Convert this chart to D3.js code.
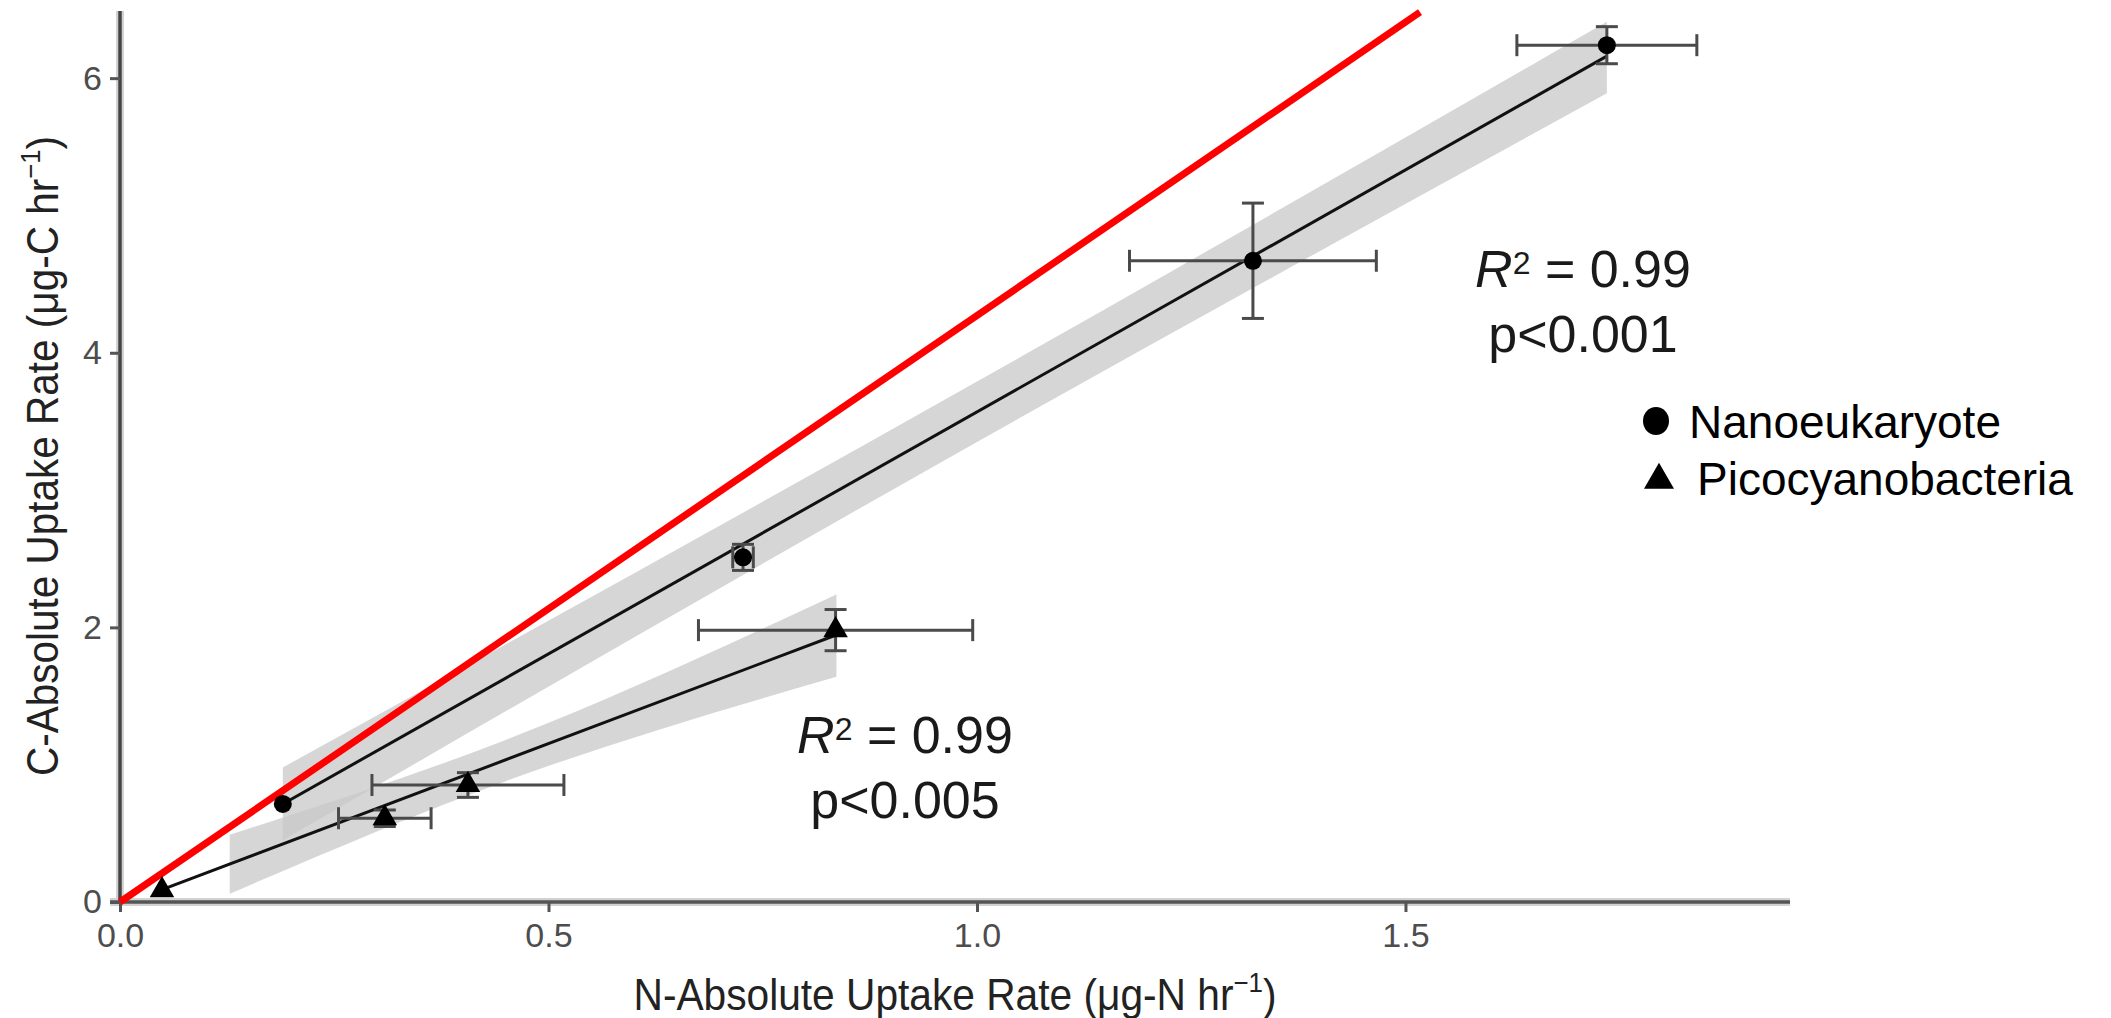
<!DOCTYPE html>
<html>
<head>
<meta charset="utf-8">
<script src="https://cdn.jsdelivr.net/npm/d3@7"></script>
<style>
  body { margin: 0; background: #fff; }
  svg { display: block; }
  text { font-family: "Liberation Sans", Arial, sans-serif; }
</style>
</head>
<body>
<svg id="chart" width="2111" height="1018"></svg>
<script>
// nanoeukaryote points (N uptake, C uptake) with error half-widths
const nanoX = [0.19, 0.727, 1.322, 1.735];
const nanoY = [0.714, 2.51, 4.67, 6.24];
const nanoXErr = [0, 0.012, 0.144, 0.105];
const nanoYErr = [0, 0.095, 0.42, 0.135];

// picocyanobacteria points
const picoX = [0.049, 0.309, 0.406, 0.835];
const picoY = [0.087, 0.61, 0.852, 1.98];
const picoXErr = [0, 0.054, 0.112, 0.16];
const picoYErr = [0, 0.06, 0.09, 0.15];

// fitted lines (end points)
const nanoFitX = [0.19, 1.735];
const nanoFitY = [0.714, 6.16];
const picoFitX = [0.049, 0.838];
const picoFitY = [0.09, 1.95];

// confidence bands
const nanoBandX = [0.19, 1.0, 1.735];
const nanoBandLo = [0.45, 3.35, 5.89];
const nanoBandHi = [0.98, 3.79, 6.41];
const picoBandX = [0.128, 0.45, 0.836];
const picoBandLo = [0.06, 0.88, 1.64];
const picoBandHi = [0.49, 1.18, 2.24];

// red reference line
const refX = [0, 1.517];
const refY = [0, 6.48];

const xTicks = [0, 0.5, 1.0, 1.5];
const yTicks = [0, 2, 4, 6];

const svg = d3.select("#chart");
const x = d3.scaleLinear().domain([0, 1.9487]).range([120, 1790]);
const y = d3.scaleLinear().domain([0, 6.489]).range([902, 11]);

// bands
function band(xs, lo, hi) {
  return xs.map((v, i) => ({x: v, lo: lo[i], hi: hi[i]}));
}
const area = d3.area()
  .x(d => x(d.x)).y0(d => y(d.lo)).y1(d => y(d.hi))
  .curve(d3.curveMonotoneX);

svg.selectAll("path.band")
  .data([band(picoBandX, picoBandLo, picoBandHi), band(nanoBandX, nanoBandLo, nanoBandHi)])
  .enter().append("path")
  .attr("class", "band")
  .attr("d", area)
  .attr("fill", "#c8c8c8")
  .attr("fill-opacity", 0.75);

// fit lines
const line = d3.line().x(d => x(d[0])).y(d => y(d[1]));
svg.selectAll("path.fit")
  .data([d3.zip(nanoFitX, nanoFitY), d3.zip(picoFitX, picoFitY)])
  .enter().append("path")
  .attr("class", "fit")
  .attr("d", line)
  .attr("fill", "none")
  .attr("stroke", "#111")
  .attr("stroke-width", 3);

// axes
const axisG = svg.append("g");
axisG.append("line")
  .attr("x1", x(0)).attr("x2", x(0)).attr("y1", y(6.489)).attr("y2", y(0))
  .attr("stroke", "#d2d2d2").attr("stroke-width", 8);
axisG.append("line")
  .attr("x1", x(0) - 10).attr("x2", x(1.9487)).attr("y1", y(0)).attr("y2", y(0))
  .attr("stroke", "#d2d2d2").attr("stroke-width", 8);

const yAxis = svg.append("g")
  .attr("transform", `translate(${x(0)},0)`)
  .call(d3.axisLeft(y).tickValues(yTicks).tickSize(10).tickSizeOuter(0).tickPadding(8).tickFormat(d3.format("d")));
const xAxis = svg.append("g")
  .attr("transform", `translate(0,${y(0)})`)
  .call(d3.axisBottom(x).tickValues(xTicks).tickSize(10).tickSizeOuter(0).tickPadding(11).tickFormat(d3.format(".1f")));

[yAxis, xAxis].forEach(g => {
  g.select(".domain").remove();
  g.selectAll(".tick line").attr("stroke", "#555").attr("stroke-width", 3);
  g.selectAll(".tick text")
    .attr("fill", "#4d4d4d")
    .style("font-size", "34px")
    .style("font-family", "'Liberation Sans', Arial, sans-serif");
});

axisG.append("line")
  .attr("x1", x(0)).attr("x2", x(0)).attr("y1", y(6.489)).attr("y2", y(0) + 1)
  .attr("stroke", "#444").attr("stroke-width", 3.5);
axisG.append("line")
  .attr("x1", x(0) - 10).attr("x2", x(1.9487)).attr("y1", y(0)).attr("y2", y(0))
  .attr("stroke", "#555").attr("stroke-width", 3.5);

// red reference line
svg.append("path")
  .datum(d3.zip(refX, refY))
  .attr("d", line)
  .attr("fill", "none")
  .attr("stroke", "#ff0000")
  .attr("stroke-width", 7);

// error bars
function drawErrors(xs, ys, xe, ye) {
  const g = svg.append("g").attr("stroke", "#4a4a4a").attr("stroke-width", 3).attr("fill", "none");
  const cap = 11;
  xs.forEach((v, i) => {
    if (xe[i] > 0) {
      g.append("line").attr("x1", x(v - xe[i])).attr("x2", x(v + xe[i])).attr("y1", y(ys[i])).attr("y2", y(ys[i]));
      g.append("line").attr("x1", x(v - xe[i])).attr("x2", x(v - xe[i])).attr("y1", y(ys[i]) - cap).attr("y2", y(ys[i]) + cap);
      g.append("line").attr("x1", x(v + xe[i])).attr("x2", x(v + xe[i])).attr("y1", y(ys[i]) - cap).attr("y2", y(ys[i]) + cap);
    }
    if (ye[i] > 0) {
      g.append("line").attr("x1", x(v)).attr("x2", x(v)).attr("y1", y(ys[i] - ye[i])).attr("y2", y(ys[i] + ye[i]));
      g.append("line").attr("x1", x(v) - cap).attr("x2", x(v) + cap).attr("y1", y(ys[i] - ye[i])).attr("y2", y(ys[i] - ye[i]));
      g.append("line").attr("x1", x(v) - cap).attr("x2", x(v) + cap).attr("y1", y(ys[i] + ye[i])).attr("y2", y(ys[i] + ye[i]));
    }
  });
}
drawErrors(nanoX, nanoY, nanoXErr, nanoYErr);
drawErrors(picoX, picoY, picoXErr, picoYErr);

// points
svg.selectAll("circle.nano")
  .data(d3.zip(nanoX, nanoY))
  .enter().append("circle")
  .attr("class", "nano")
  .attr("cx", d => x(d[0])).attr("cy", d => y(d[1]))
  .attr("r", 9)
  .attr("fill", "#000");

svg.selectAll("path.pico")
  .data(d3.zip(picoX, picoY))
  .enter().append("path")
  .attr("class", "pico")
  .attr("transform", d => `translate(${x(d[0])},${y(d[1])})`)
  .attr("d", d3.symbol(d3.symbolTriangle, 260))
  .attr("fill", "#000");

// annotations: R² as one text, superscript via baseline-shift
function annot(cx, by, p) {
  const t = svg.append("text")
    .attr("x", cx).attr("y", by)
    .attr("text-anchor", "middle")
    .attr("fill", "#1a1a1a")
    .style("font-size", "52px");
  t.append("tspan").attr("font-style", "italic").text("R");
  t.append("tspan").attr("baseline-shift", "42%").style("font-size", "32px").text("2");
  t.append("tspan").text(" = 0.99");
  svg.append("text")
    .attr("x", cx).attr("y", by + 65)
    .attr("text-anchor", "middle")
    .attr("fill", "#1a1a1a")
    .style("font-size", "52px")
    .text(p);
}
annot(1583, 287, "p<0.001");
annot(905, 753, "p<0.005");

// legend
svg.append("ellipse").attr("cx", 1656).attr("cy", 421).attr("rx", 13).attr("ry", 14).attr("fill", "#000");
svg.append("path")
  .attr("transform", "translate(1659,480)")
  .attr("d", d3.symbol(d3.symbolTriangle, 390))
  .attr("fill", "#000");
svg.append("text").attr("x", 1689).attr("y", 438).attr("fill", "#000").style("font-size", "46px").text("Nanoeukaryote");
svg.append("text").attr("x", 1697).attr("y", 495).attr("fill", "#000").style("font-size", "46px").text("Picocyanobacteria");

// axis titles
const xt = svg.append("text")
  .attr("x", 955).attr("y", 1010)
  .attr("text-anchor", "middle")
  .attr("fill", "#222")
  .attr("textLength", 643).attr("lengthAdjust", "spacingAndGlyphs")
  .style("font-size", "44px");
xt.append("tspan").text("N-Absolute Uptake Rate (μg-N hr");
xt.append("tspan").attr("dy", -18).style("font-size", "28px").text("−1");
xt.append("tspan").attr("dy", 18).text(")");

const yt = svg.append("text")
  .attr("transform", "translate(58,456) rotate(-90)")
  .attr("text-anchor", "middle")
  .attr("fill", "#222")
  .attr("textLength", 640).attr("lengthAdjust", "spacingAndGlyphs")
  .style("font-size", "44px");
yt.append("tspan").text("C-Absolute Uptake Rate (μg-C hr");
yt.append("tspan").attr("dy", -18).style("font-size", "28px").text("−1");
yt.append("tspan").attr("dy", 18).text(")");
</script>
</body>
</html>
